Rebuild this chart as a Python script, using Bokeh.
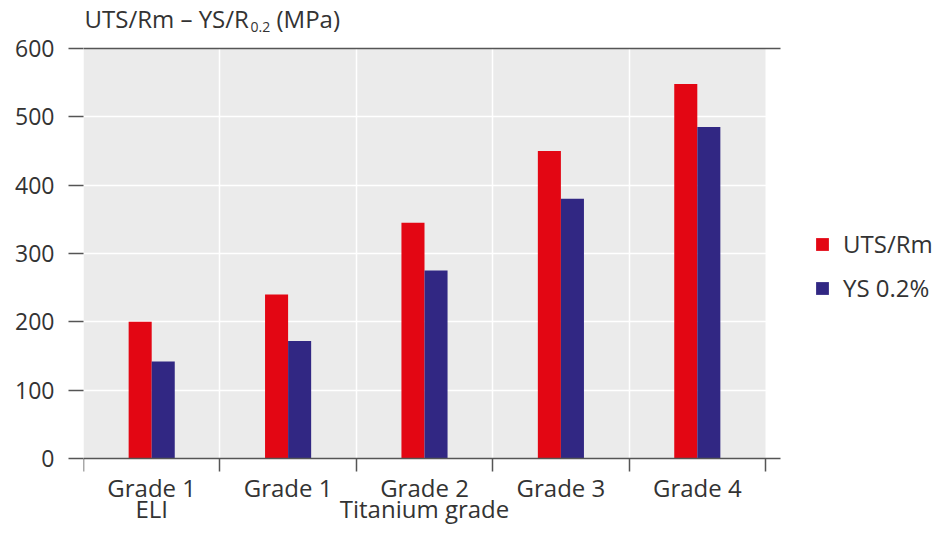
from bokeh.plotting import figure
from bokeh.models import (ColumnDataSource, FixedTicker, LinearAxis, Range1d, Span,
                          LabelSet, Legend, LegendItem, Grid)
from bokeh.core.properties import value
from bokeh.transform import dodge
from bokeh.embed import file_html
from bokeh.resources import INLINE

# ---- data ----
categories = ["Grade 1\nELI", "Grade 1", "Grade 2", "Grade 3", "Grade 4"]
uts_values = [200, 240, 345, 450, 548]
ys_values = [142, 172, 275, 380, 485]
series_names = ["UTS/Rm", "YS 0.2%"]
y_ticks = [0, 100, 200, 300, 400, 500, 600]
x_title = "Titanium grade"
y_title_main = "UTS/Rm \u2013 YS/R"
y_title_sub = "0.2"
y_title_unit = "(MPa)"

# ---- style / layout ----
FONT = "Open Sans"
RED = "#e30613"
BLUE = "#312783"
GRAY_BG = "#ebebeb"
AXIS = "#555555"
TXT = "#333333"

W, H = 933, 524
LEFT = 83
TOP_PX, ZERO_PX = 48, 458          # pixel rows of the top tick and of zero
CAT_PX = 136.4                     # px per category
n = len(categories)
ymax = y_ticks[-1]
s = (ZERO_PX - TOP_PX) / ymax      # px per MPa
centers = [i + 0.5 for i in range(n)]
bw = 0.169
axis_end = n + 15 / CAT_PX

p = figure(width=W, height=H,
           x_range=Range1d(0, (W - LEFT) / CAT_PX),
           y_range=Range1d(-(H - ZERO_PX) / s, ymax + TOP_PX / s),
           output_backend="svg", toolbar_location=None,
           x_axis_type=None, y_axis_type=None,
           min_border_left=LEFT, min_border_right=0,
           min_border_top=0, min_border_bottom=0)
p.background_fill_color = "white"
p.border_fill_color = "white"
p.outline_line_color = None

# grey plotting area
p.quad(left=[0], right=[n], bottom=[y_ticks[0]], top=[ymax],
       fill_color=GRAY_BG, line_color=None, level="image")

# grids
p.add_layout(Grid(dimension=0, ticker=FixedTicker(ticks=list(range(1, n))),
                  grid_line_color="white", grid_line_width=1.5))
p.add_layout(Grid(dimension=1, ticker=FixedTicker(ticks=y_ticks[1:-1]),
                  grid_line_color="white", grid_line_width=1.5))
# dark top line at 600
try:
    top_line = Grid(dimension=1, ticker=FixedTicker(ticks=[ymax]),
                    cross_bounds=(0, axis_end),
                    grid_line_color=AXIS, grid_line_width=1.5)
except Exception:
    top_line = Span(location=ymax, dimension="width", line_color=AXIS, line_width=1.5)
p.add_layout(top_line)

src = ColumnDataSource(dict(x=centers, uts=uts_values, ys=ys_values))
r1 = p.vbar(x=dodge("x", -bw / 2), top="uts", width=bw, source=src,
            fill_color=RED, line_color=None)
r2 = p.vbar(x=dodge("x", bw / 2), top="ys", width=bw, source=src,
            fill_color=BLUE, line_color=None)

# x axis at zero, ticks at category boundaries
xaxis = LinearAxis(ticker=FixedTicker(ticks=[], minor_ticks=list(range(n + 1))),
                   fixed_location=0, bounds=(0, axis_end),
                   major_tick_out=0, major_tick_in=0, major_label_standoff=0,
                   minor_tick_out=13, minor_tick_in=0,
                   minor_tick_line_color=AXIS, minor_tick_line_width=1.5,
                   axis_line_color=AXIS, axis_line_width=1.5)
p.add_layout(xaxis, "below")

yaxis = LinearAxis(ticker=FixedTicker(ticks=y_ticks),
                   axis_line_color=None,
                   major_tick_out=15, major_tick_in=0,
                   major_tick_line_color=AXIS, major_tick_line_width=1.5,
                   minor_tick_line_color=None,
                   major_label_text_font=FONT, major_label_text_font_size="23px",
                   major_label_text_color=TXT, major_label_standoff=14)
p.add_layout(yaxis, "left")


def text_set(xs, ys, texts, x_off=0, y_off=0, size="23px", align="left"):
    ds = ColumnDataSource(dict(x=xs, y=ys, t=texts))
    p.add_layout(LabelSet(x="x", y="y", text="t", source=ds,
                          x_offset=x_off, y_offset=y_off,
                          text_align=align, text_baseline="alphabetic",
                          text_font=value(FONT), text_font_size=value(size),
                          text_color=TXT))


# category labels (two lines) and x title
line1 = [c.split("\n")[0] for c in categories]
line2 = [c.split("\n")[1] if "\n" in c else "" for c in categories]
text_set(centers, [0] * n, line1, y_off=-38, size="24px", align="center")
text_set(centers, [0] * n, line2, y_off=-59, size="24px", align="center")
text_set([n / 2], [0], [x_title], y_off=-59, size="24px", align="center")

# y title with subscript
text_set([0], [ymax], [y_title_main], x_off=1, y_off=21, size="24px")
text_set([0], [ymax], [y_title_sub], x_off=167, y_off=17, size="14px")
text_set([0], [ymax], [y_title_unit], x_off=193, y_off=21, size="24px")

legend = Legend(items=[LegendItem(label=series_names[0], renderers=[r1]),
                       LegendItem(label=series_names[1], renderers=[r2])],
                location=(731, 220), orientation="vertical",
                glyph_width=16, glyph_height=16, label_standoff=13, spacing=11,
                padding=0, margin=0, border_line_color=None, background_fill_alpha=0,
                label_text_font=FONT, label_text_font_size="24px", label_text_color=TXT)
p.add_layout(legend, "center")

open("out.html", "w").write(file_html(p, INLINE))
